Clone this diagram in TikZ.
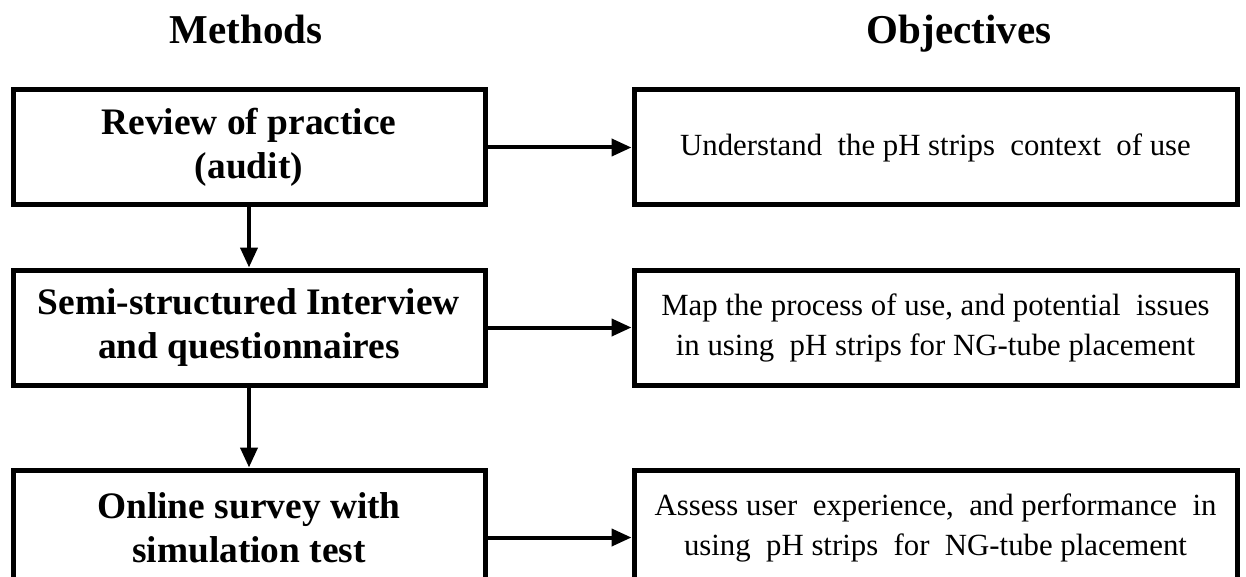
\documentclass[tikz,border=0pt]{standalone}
\usepackage{fontspec}
\setmainfont{Liberation Serif}
\usetikzlibrary{arrows.meta}
\begin{document}
\begin{tikzpicture}[x=0.5pt,y=-0.5pt,
  mbox/.style={draw, line width=2.5pt, minimum width=236pt, minimum height=57.5pt, inner sep=0pt, align=center, font=\fontsize{18.7}{22}\selectfont\bfseries},
  obox/.style={draw, line width=2.5pt, minimum width=301.5pt, minimum height=57.5pt, inner sep=0pt, align=center, font=\fontsize{15.4}{20}\selectfont},
  head/.style={font=\fontsize{20.5}{24}\selectfont\bfseries, inner sep=0pt, anchor=base},
  conn/.style={line width=2pt, -{Triangle[length=10pt,width=8.5pt]}}
]
\useasboundingbox (0,0) rectangle (1246,577);
\node[head] (hm) at (246,44) {Methods};
\node[head] (ho) at (959,44) {Objectives};
\node[mbox] (m1) at (249,147.5) {Review of practice\\(audit)};
\node[mbox] (m2) at (249,327.5) {Semi-structured Interview\\and questionnaires};
\node[mbox] (m3) at (249,527.5) {Online survey with\\simulation test};
\node[obox] (o1) at (935.5,147.5) {Understand\ \ the pH strips\ \ context\ \ of use};
\node[obox] (o2) at (935.5,327.5) {Map the process of use, and potential\ \ issues\\in using\ \ pH strips for NG-tube placement};
\node[obox] (o3) at (935.5,527.5) {Assess user\ \ experience,\ \ and performance\ \ in\\using\ \ pH strips\ \ for\ \ NG-tube placement};
\draw[conn] (m1) -- (o1);
\draw[conn] (m2) -- (o2);
\draw[conn] ([yshift=-5pt]m3.east) -- ([yshift=-5pt]o3.west);
\draw[conn] (m1) -- (m2);
\draw[conn] (m2) -- (m3);
\end{tikzpicture}
\end{document}
